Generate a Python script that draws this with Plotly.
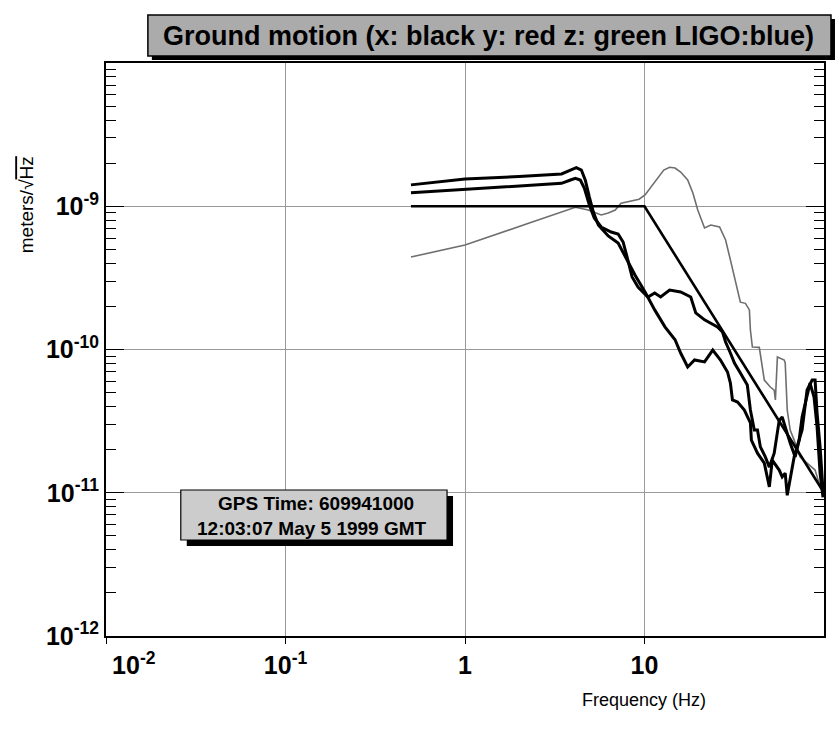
import plotly.graph_objects as go

# ---- ground motion spectra (frequency in Hz, amplitude in m/sqrt(Hz)) ----
freq_x = [0.5, 1, 2, 3.45, 3.87, 4.17, 4.45, 4.68, 4.93, 5.19, 5.53, 6.28, 7.13, 7.9,
          8.85, 10.07, 11.4, 13.0, 14.8, 15.9, 17.4, 19.0, 21.6, 24.0, 26.5, 29.0,
          30.1, 30.9, 33.0, 36.0, 38.9, 39.4, 42.6, 46.5, 48.3, 49.6, 51.5, 56.3,
          58.5, 60.8, 62.4, 64.8, 68.2, 70.8, 75.5, 80.5, 85.9, 89.2, 91.5, 95.1, 98.7]
amp_x = [1.41e-9, 1.55e-9, 1.61e-9, 1.68e-9, 1.79e-9, 1.86e-9, 1.79e-9, 1.52e-9, 1.16e-9,
         9.1e-10, 7.4e-10, 6.2e-10, 5.54e-10, 4.35e-10, 3.31e-10, 2.52e-10, 1.89e-10,
         1.44e-10, 1.17e-10, 9.45e-11, 7.55e-11, 8.45e-11, 8.2e-11, 9.9e-11, 8.45e-11,
         6.97e-11, 5.83e-11, 4.44e-11, 4.3e-11, 3.78e-11, 3.07e-11, 2.33e-11, 1.89e-11,
         1.61e-11, 1.29e-11, 1.10e-11, 1.69e-11, 1.44e-11, 1.29e-11, 1.37e-11, 9.6e-12,
         1.23e-11, 1.78e-11, 2.09e-11, 2.74e-11, 5.21e-11, 6.12e-11, 6.12e-11, 3.6e-11,
         2.09e-11, 1.05e-11]

freq_y = [0.5, 1, 2, 3.45, 3.87, 4.12, 4.39, 4.62, 4.93, 5.25, 5.74, 6.52, 7.13, 7.6,
          8.0, 8.53, 9.2, 10.45, 11.4, 12.3, 13.8, 15.9, 18.1, 19.3, 21.6, 25.5, 27.2,
          28.3, 30.1, 31.7, 34.2, 37.4, 38.9, 40.9, 42.6, 44.2, 47.1, 49.6, 52.8, 56.3,
          58.5, 60.8, 64.8, 69.1, 72.7, 75.5, 80.5, 83.6, 88.0, 91.5, 95.1, 98.7]
amp_y = [1.24e-9, 1.31e-9, 1.385e-9, 1.445e-9, 1.525e-9, 1.567e-9, 1.525e-9, 1.34e-9,
         1.02e-9, 8.28e-10, 7.16e-10, 6.61e-10, 6.4e-10, 5.63e-10, 4.42e-10, 3.21e-10,
         2.73e-10, 2.325e-10, 2.48e-10, 2.325e-10, 2.6e-10, 2.52e-10, 2.325e-10, 1.8e-10,
         1.61e-10, 1.436e-10, 1.325e-10, 1.128e-10, 9.45e-11, 8.05e-11, 6.85e-11, 5.65e-11,
         3.78e-11, 2.74e-11, 2.74e-11, 2.09e-11, 1.78e-11, 1.51e-11, 1.89e-11, 3.2e-11,
         3.38e-11, 2.88e-11, 2.22e-11, 1.78e-11, 2.33e-11, 3.38e-11, 4.66e-11, 5.83e-11,
         4.66e-11, 2.88e-11, 1.37e-11, 9.3e-12]

freq_z = [0.5, 0.632, 1, 2.26, 3.45, 4.12, 4.86, 5.74, 6.28, 6.87, 7.41, 8.11, 8.85,
          9.33, 10.07, 10.87, 11.9, 12.8, 13.8, 14.8, 15.9, 17.4, 18.6, 19.8, 21.6, 23.4,
          26.2, 28.3, 30.1, 32.1, 34.2, 36.5, 38.4, 38.9, 39.9, 43.6, 46.5, 50.2, 52.8,
          53.6, 55.0, 60.0, 60.8, 62.4, 64.8, 68.2, 73.6, 80.5, 85.9, 89.2, 93.8, 97.5]
amp_z = [4.42e-10, 4.74e-10, 5.37e-10, 7.6e-10, 9.16e-10, 9.83e-10, 9.42e-10, 8.69e-10,
         8.97e-10, 9.42e-10, 1.048e-9, 1.071e-9, 1.106e-9, 1.12e-9, 1.198e-9, 1.362e-9,
         1.6e-9, 1.79e-9, 1.87e-9, 1.85e-9, 1.734e-9, 1.525e-9, 1.237e-9, 9.42e-10,
         7.05e-10, 7.4e-10, 7.16e-10, 5.81e-10, 4.22e-10, 3.05e-10, 2.14e-10, 2.1e-10,
         1.89e-10, 1.368e-10, 1.04e-10, 1.035e-10, 6.12e-11, 5.47e-11, 5.21e-11, 4.44e-11,
         8.86e-11, 8.45e-11, 8.05e-11, 3.78e-11, 2.74e-11, 2.33e-11, 1.775e-11, 1.61e-11,
         1.51e-11, 1.44e-11, 1.17e-11, 1.1e-11]

# LIGO requirement: flat to 10 Hz, then falling as f^-2
freq_ligo = [0.5, 10, 100]
amp_ligo = [1e-9, 1e-9, 1e-11]

x_tick_vals = [0.01, 0.1, 1, 10]
x_tick_text = ["\u2007\u2007\u2007\u200710<sup>-2</sup>", "10<sup>-1</sup>", "1", "10"]
y_tick_vals = [1e-12, 1e-11, 1e-10, 1e-9]
y_tick_text = ["10<sup>-12</sup>", "10<sup>-11</sup>", "10<sup>-10</sup>", "10<sup>-9</sup>"]

title_text = "Ground motion (x: black y: red z: green LIGO:blue)"
gps_lines = ["GPS Time: 609941000", "12:03:07 May 5 1999 GMT"]

FONT = "Liberation Sans, Arial, Helvetica, sans-serif"

# frame of the plotting area in page pixels
W, H = 838, 738
L, R, T, B = 106, 826, 63, 636


def px(x):
    return (x - L) / (R - L)


def py(y):
    return (B - y) / (B - T)


fig = go.Figure()
fig.add_trace(go.Scatter(x=freq_z, y=amp_z, mode="lines", name="z",
                         line=dict(color="#6e6e6e", width=1.6)))
fig.add_trace(go.Scatter(x=freq_ligo, y=amp_ligo, mode="lines", name="LIGO",
                         line=dict(color="black", width=2.6)))
fig.add_trace(go.Scatter(x=freq_y, y=amp_y, mode="lines", name="y",
                         line=dict(color="black", width=3)))
fig.add_trace(go.Scatter(x=freq_x, y=amp_x, mode="lines", name="x",
                         line=dict(color="black", width=3)))

# decade subdivisions 2..9 for the minor ticks of the amplitude axis
minor_y = [m * 10.0 ** e for e in range(-12, -8) for m in range(2, 10)]

fig.update_xaxes(
    type="log", range=[-2, 2], tickmode="array", tickvals=x_tick_vals,
    ticktext=x_tick_text,
    showline=True, linecolor="black", linewidth=2, mirror=True,
    ticks="outside", ticklen=6, tickwidth=1, tickcolor="black",
    showgrid=True, gridcolor="#9a9a9a", gridwidth=1,
    zeroline=False,
    tickfont=dict(family=FONT, size=25, color="black", weight="bold"),
)
fig.update_yaxes(
    type="log", range=[-12, -8], tickmode="array", tickvals=y_tick_vals,
    ticktext=y_tick_text,
    showline=True, linecolor="black", linewidth=2, mirror="ticks",
    ticks="inside", ticklen=18, tickwidth=1, tickcolor="black",
    showgrid=True, gridcolor="#9a9a9a", gridwidth=1,
    zeroline=False,
    minor=dict(tickmode="array", tickvals=minor_y, ticks="inside", ticklen=10,
               tickwidth=1, tickcolor="black", showgrid=False),
    tickfont=dict(family=FONT, size=25, color="black", weight="bold"),
)

shapes = [
    # title box with drop shadow
    dict(type="rect", xref="paper", yref="paper", layer="above",
         x0=px(152), x1=px(837), y0=py(60), y1=py(19),
         fillcolor="black", line=dict(width=0)),
    dict(type="rect", xref="paper", yref="paper", layer="above",
         x0=px(148), x1=px(833), y0=py(56), y1=py(15),
         fillcolor="#ababab", line=dict(color="black", width=1.5)),
    # GPS time box with drop shadow
    dict(type="rect", xref="paper", yref="paper", layer="above",
         x0=px(187), x1=px(454), y0=py(546), y1=py(496),
         fillcolor="black", line=dict(width=0)),
    dict(type="rect", xref="paper", yref="paper", layer="above",
         x0=px(181), x1=px(448), y0=py(540), y1=py(490),
         fillcolor="#cccccc", line=dict(color="black", width=1.2)),
]

annotations = [
    dict(text=title_text, xref="paper", yref="paper", x=px(490), y=py(36),
         showarrow=False, xanchor="center", yanchor="middle",
         font=dict(family=FONT, size=27, color="black", weight="bold")),
    dict(text=gps_lines[0], xref="paper", yref="paper", x=px(317), y=py(503),
         showarrow=False, xanchor="center", yanchor="middle",
         font=dict(family=FONT, size=19, color="black", weight="bold")),
    dict(text=gps_lines[1], xref="paper", yref="paper", x=px(313), y=py(528),
         showarrow=False, xanchor="center", yanchor="middle",
         font=dict(family=FONT, size=19, color="black", weight="bold")),
    dict(text="Frequency (Hz)", xref="paper", yref="paper", x=px(645), y=py(700),
         showarrow=False, xanchor="center", yanchor="middle",
         font=dict(family=FONT, size=18, color="black")),
    dict(text="meters/\u221a<span style='text-decoration:overline'>Hz</span>",
         xref="paper", yref="paper", x=px(27), y=py(205),
         showarrow=False, xanchor="center", yanchor="middle", textangle=-90,
         font=dict(family=FONT, size=19, color="black")),
]

fig.update_layout(
    width=W, height=H, autosize=False,
    margin=dict(l=L, r=W - R, t=T, b=H - B, pad=0),
    paper_bgcolor="white", plot_bgcolor="white",
    showlegend=False, shapes=shapes, annotations=annotations,
)

fig.write_html("out.html")
